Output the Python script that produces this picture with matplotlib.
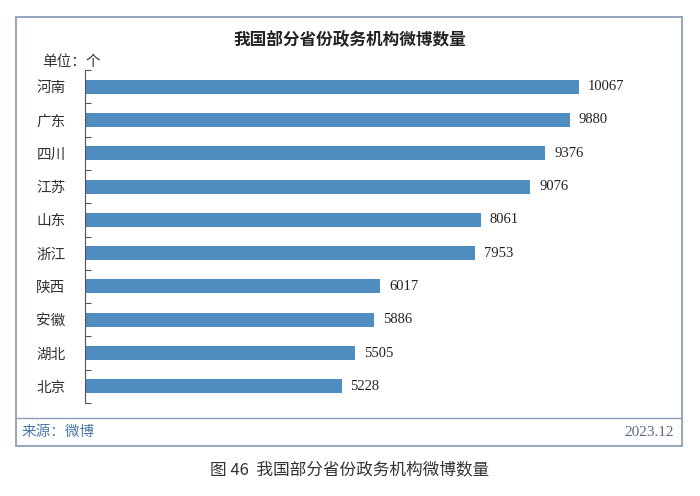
import matplotlib.pyplot as plt
from matplotlib.patches import Rectangle
from matplotlib.lines import Line2D

provinces = ['河南', '广东', '四川', '江苏', '山东', '浙江', '陕西', '安徽', '湖北', '北京']
counts = [10067, 9880, 9376, 9076, 8061, 7953, 6017, 5886, 5505, 5228]

serif = ['Liberation Serif', 'Noto Sans CJK SC']
cjk = ['Noto Sans CJK SC', 'DejaVu Sans']
plt.rcParams['font.family'] = serif

W, H = 700, 496
fig = plt.figure(figsize=(7, 4.96), dpi=100)

# plot area (pixel positions converted to figure fractions)
ax = fig.add_axes([85 / W, 93 / H, 589 / W, 333 / H])
ypos = list(range(len(provinces)))
ax.barh(ypos, counts, height=0.42, color='#4f8dc0')
for y, v in zip(ypos, counts):
    ax.text(v + 180, y, str(v), va='center', ha='left', fontsize=10.5,
            family=serif, color='#222222')

ax.set_xlim(0, 12000)
ax.set_ylim(len(provinces) - 0.5, -0.5)
ax.set_yticks(ypos)
ax.set_yticklabels(provinces, family=cjk, fontsize=10.5, color='#333333')
ax.tick_params(axis='y', which='major', length=0, pad=14)
ax.set_yticks([i - 0.5 for i in range(len(provinces) + 1)], minor=True)
ax.tick_params(axis='y', which='minor', direction='in', length=4,
               color='#555555', width=0.8)
ax.set_xticks([])
for s in ['top', 'right', 'bottom']:
    ax.spines[s].set_visible(False)
ax.spines['left'].set_color('#555555')
ax.spines['left'].set_linewidth(0.8)

# outer frame and footer separator
frame_col = '#8aa0b8'
fig.add_artist(Rectangle((16 / W, 1 - 446 / H), (682 - 16) / W, (446 - 17) / H,
                         transform=fig.transFigure, fill=False,
                         edgecolor=frame_col, linewidth=1.3))
fig.add_artist(Line2D([16 / W, 682 / W], [1 - 418 / H, 1 - 418 / H],
                      transform=fig.transFigure, color=frame_col, linewidth=1.0))

fig.text(350 / W, 1 - 40 / H, '我国部分省份政务机构微博数量', ha='center', va='center',
         fontsize=12, fontweight='bold', family=cjk, color='#222222')
fig.text(42 / W, 1 - 62 / H, '单位：个', ha='left', va='center',
         fontsize=10.5, family=cjk, color='#333333')
fig.text(22 / W, 1 - 432 / H, '来源：微博', ha='left', va='center',
         fontsize=10.5, family=cjk, color='#4a78aa')
fig.text(674 / W, 1 - 432 / H, '2023.12', ha='right', va='center',
         fontsize=11, family=serif, color='#5a6b80')
fig.text(350 / W, 1 - 470 / H, '图 46  我国部分省份政务机构微博数量', ha='center',
         va='center', fontsize=12, family=cjk, color='#333333')

fig.savefig('out.png', dpi=100)
